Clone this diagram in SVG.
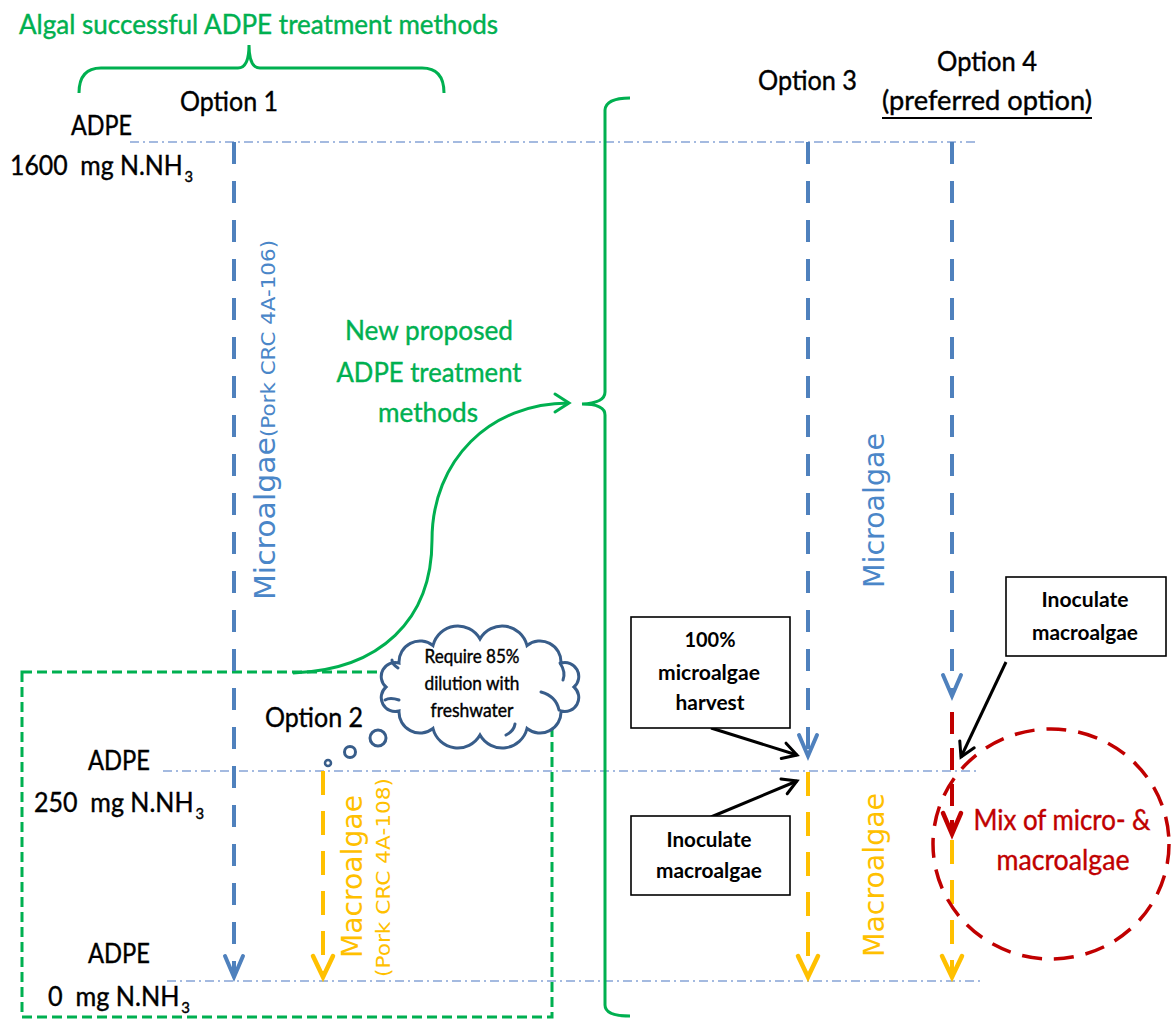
<svg xmlns="http://www.w3.org/2000/svg" width="1171" height="1019" viewBox="0 0 1171 1019">
<style>
.t{font-family:Lato,"Liberation Sans",Arial,sans-serif;stroke-width:0.4;paint-order:stroke}
.v{font-family:"DejaVu Sans",Verdana,sans-serif}
.g{fill:#00b050;stroke:#00b050}
.k{fill:#000;stroke:#000}
.rt{fill:#c00000;stroke:#c00000}
.dd{stroke:#86a4d6;stroke-width:1.6;stroke-dasharray:9 4 2 4;fill:none}
.db{stroke:#4f81bd;stroke-width:4;stroke-dasharray:22 17;fill:none}
.dy{stroke:#ffc000;stroke-width:4;stroke-dasharray:24 16;fill:none}
.dr{stroke:#c00000;stroke-width:4;stroke-dasharray:22 14;fill:none}
.ba{stroke:#000;stroke-width:3;fill:none}
.gl{stroke:#00b050;stroke-width:3;fill:none}
.box{fill:#fff;stroke:#000;stroke-width:1.6}
.bt{font-family:Lato,"Liberation Sans",Arial,sans-serif;font-weight:bold;font-size:21px;text-anchor:middle;fill:#000}
.cs{fill:none;stroke:#385d8a;stroke-width:3;stroke-linecap:round}
.mk{fill:none;stroke-linecap:round;stroke-linejoin:miter}
</style>
<defs>
<marker id="mB" markerUnits="userSpaceOnUse" viewBox="-26 -14 32 28" refX="0" refY="0" markerWidth="32" markerHeight="28" orient="auto" overflow="visible"><path class="mk" d="M-21,-9 L0,0 L-21,9" stroke="#4f81bd" stroke-width="4"/></marker>
<marker id="mY" markerUnits="userSpaceOnUse" viewBox="-26 -14 32 28" refX="0" refY="0" markerWidth="32" markerHeight="28" orient="auto" overflow="visible"><path class="mk" d="M-21,-10 L0,0 L-21,10" stroke="#ffc000" stroke-width="4.5"/></marker>
<marker id="mR" markerUnits="userSpaceOnUse" viewBox="-26 -14 32 28" refX="0" refY="0" markerWidth="32" markerHeight="28" orient="auto" overflow="visible"><path class="mk" d="M-21,-9 L0,0 L-21,9" stroke="#c00000" stroke-width="4.5"/></marker>
<marker id="mK" markerUnits="userSpaceOnUse" viewBox="-20 -12 26 24" refX="0" refY="0" markerWidth="26" markerHeight="24" orient="auto" overflow="visible"><path class="mk" d="M-14,-8 L0,0 L-14,8" stroke="#000" stroke-width="3"/></marker>
<marker id="mG" markerUnits="userSpaceOnUse" viewBox="-20 -12 26 24" refX="0" refY="0" markerWidth="26" markerHeight="24" orient="auto" overflow="visible"><path class="mk" d="M-14,-9 L0,0 L-14,9" stroke="#00b050" stroke-width="3"/></marker>
</defs>
<rect width="1171" height="1019" fill="#fff"/>

<g id="option2-frame">
<rect x="22" y="672" width="530" height="345" fill="none" stroke="#00b050" stroke-width="3" stroke-dasharray="10 5"/>
</g>

<g id="connectors">
<line class="dd" x1="130" y1="142" x2="978" y2="142"/>
<line class="dd" x1="163" y1="771" x2="979" y2="771"/>
<line class="dd" x1="167" y1="981" x2="983" y2="981"/>
<line class="db" x1="234" y1="142" x2="234" y2="977" marker-end="url(#mB)"/>
<line class="db" x1="808" y1="142" x2="808" y2="756" marker-end="url(#mB)"/>
<line class="db" x1="952" y1="142" x2="952" y2="696" marker-end="url(#mB)"/>
<line class="dy" x1="323" y1="771" x2="323" y2="977" marker-end="url(#mY)"/>
<line class="dy" x1="808" y1="772" x2="808" y2="977" marker-end="url(#mY)"/>
<line class="dy" x1="952" y1="840" x2="952" y2="977" marker-end="url(#mY)"/>
<line class="dr" x1="952" y1="712" x2="952" y2="834" marker-end="url(#mR)"/>
<line class="ba" x1="711" y1="728" x2="797" y2="755" marker-end="url(#mK)"/>
<line class="ba" x1="711" y1="817" x2="797" y2="781" marker-end="url(#mK)"/>
<line class="ba" x1="1006" y1="662" x2="961" y2="757" marker-end="url(#mK)"/>
<path class="gl" d="M293,673 C380,670 432,620 432,540 C432,460 490,403 569,403" marker-end="url(#mG)"/>
</g>

<g id="brace-top">
<path class="gl" d="M79,93 Q79,68 101,68 L238,68 Q249,68 249,45 Q249,68 260,68 L422,68 Q444,68 444,93"/>
</g>
<g id="brace-right">
<path class="gl" d="M630,98 Q606,98 605,110 L605,392 Q605,403 582,404 Q605,404 605,415 L605,1005 Q605,1016 630,1016"/>
</g>

<g id="title">
<text class="t g" x="19" y="34" font-size="27" textLength="479" lengthAdjust="spacingAndGlyphs">Algal successful ADPE treatment methods</text>
</g>

<g id="option-labels">
<text class="t k" x="180" y="111" font-size="27" textLength="98" lengthAdjust="spacingAndGlyphs">Option 1</text>
<text class="t k" x="265" y="727" font-size="27" textLength="98" lengthAdjust="spacingAndGlyphs">Option 2</text>
<text class="t k" x="758" y="90" font-size="27" textLength="99" lengthAdjust="spacingAndGlyphs">Option 3</text>
<text class="t k" x="937" y="71" font-size="27" textLength="100" lengthAdjust="spacingAndGlyphs">Option 4</text>
<text class="t k" x="882" y="110" font-size="27" textLength="210" lengthAdjust="spacingAndGlyphs">(preferred option)</text>
<line x1="882" y1="118" x2="1092" y2="118" stroke="#000" stroke-width="2"/>
</g>

<g id="level-1600">
<text class="t k" x="71" y="135" font-size="27" textLength="61" lengthAdjust="spacingAndGlyphs">ADPE</text>
<text class="t k" x="10" y="175" font-size="27" textLength="183" lengthAdjust="spacingAndGlyphs" xml:space="preserve">1600  mg N.NH<tspan font-size="16" dx="2" dy="7">3</tspan></text>
</g>
<g id="level-250">
<text class="t k" x="88" y="770" font-size="27" textLength="62" lengthAdjust="spacingAndGlyphs">ADPE</text>
<text class="t k" x="34" y="812" font-size="27" textLength="170" lengthAdjust="spacingAndGlyphs" xml:space="preserve">250  mg N.NH<tspan font-size="16" dx="2" dy="7">3</tspan></text>
</g>
<g id="level-0">
<text class="t k" x="88" y="963" font-size="27" textLength="62" lengthAdjust="spacingAndGlyphs">ADPE</text>
<text class="t k" x="48" y="1006" font-size="27" textLength="142" lengthAdjust="spacingAndGlyphs" xml:space="preserve">0  mg N.NH<tspan font-size="16" dx="2" dy="7">3</tspan></text>
</g>

<g id="microalgae-option1">
<text class="v" fill="#4a86c8" font-size="28" transform="translate(275,600) rotate(-90)" textLength="163" lengthAdjust="spacingAndGlyphs">Microalgae</text>
<text class="v" fill="#4a86c8" font-size="20" transform="translate(275,437) rotate(-90)" textLength="197" lengthAdjust="spacingAndGlyphs">(Pork CRC 4A-106)</text>
</g>
<g id="macroalgae-option2">
<text class="v" fill="#ffc000" font-size="28" transform="translate(362,958) rotate(-90)" textLength="163" lengthAdjust="spacingAndGlyphs">Macroalgae</text>
<text class="v" fill="#ffc000" font-size="19" transform="translate(390,977) rotate(-90)" textLength="199" lengthAdjust="spacingAndGlyphs">(Pork CRC 4A-108)</text>
</g>
<g id="microalgae-option34">
<text class="v" fill="#4a86c8" font-size="28" transform="translate(884,588) rotate(-90)" textLength="155" lengthAdjust="spacingAndGlyphs">Microalgae</text>
</g>
<g id="macroalgae-option34">
<text class="v" fill="#ffc000" font-size="28" transform="translate(884,957) rotate(-90)" textLength="164" lengthAdjust="spacingAndGlyphs">Macroalgae</text>
</g>

<g id="new-proposed">
<text class="t g" x="429" y="340" font-size="27" text-anchor="middle" textLength="168" lengthAdjust="spacingAndGlyphs">New proposed</text>
<text class="t g" x="429" y="382" font-size="27" text-anchor="middle" textLength="185" lengthAdjust="spacingAndGlyphs">ADPE treatment</text>
<text class="t g" x="428" y="422" font-size="27" text-anchor="middle" textLength="100" lengthAdjust="spacingAndGlyphs">methods</text>
</g>

<g id="cloud">
<path d="M574,687 A14,14 0 0 1 561,711 A21,21 0 0 1 527,728.5 A25.5,25.5 0 0 1 480,735 A25.5,25.5 0 0 1 433,728.5 A21,21 0 0 1 399,711 A14,14 0 0 1 386,687 A14,14 0 0 1 399,663 A21,21 0 0 1 433,645.5 A25.5,25.5 0 0 1 480,639 A25.5,25.5 0 0 1 527,645.5 A21,21 0 0 1 561,663 A14,14 0 0 1 574,687 Z" fill="#fff" stroke="#385d8a" stroke-width="3"/>
<path class="cs" d="M541,692 Q556,696 559,710"/>
<path class="cs" d="M506,735 Q514,731 515,724"/>
<path class="cs" d="M399,700 Q390,697 385,700"/>
<path class="cs" d="M398,668 Q392,664 392,660"/>
<path class="cs" d="M560,663 Q566,672 563,680"/>
<circle cx="378" cy="738" r="8" fill="#fff" stroke="#385d8a" stroke-width="3"/>
<circle cx="350" cy="752" r="5.5" fill="#fff" stroke="#385d8a" stroke-width="3"/>
<circle cx="328" cy="763" r="3" fill="#fff" stroke="#385d8a" stroke-width="2.5"/>
<text class="t k" x="472" y="663" font-size="18.5" text-anchor="middle" textLength="95" lengthAdjust="spacingAndGlyphs" stroke-width="0.2">Require 85%</text>
<text class="t k" x="472" y="690" font-size="18.5" text-anchor="middle" textLength="95" lengthAdjust="spacingAndGlyphs" stroke-width="0.2">dilution with</text>
<text class="t k" x="472" y="717" font-size="18.5" text-anchor="middle" textLength="83" lengthAdjust="spacingAndGlyphs" stroke-width="0.2">freshwater</text>
</g>

<g id="box-harvest">
<rect class="box" x="631" y="617" width="159" height="111"/>
<text class="bt" x="710" y="647" textLength="51" lengthAdjust="spacingAndGlyphs">100%</text>
<text class="bt" x="709" y="680" textLength="102" lengthAdjust="spacingAndGlyphs">microalgae</text>
<text class="bt" x="710" y="710" textLength="69" lengthAdjust="spacingAndGlyphs">harvest</text>
</g>
<g id="box-inoculate-3">
<rect class="box" x="631" y="816" width="159" height="79"/>
<text class="bt" x="709" y="847" textLength="85" lengthAdjust="spacingAndGlyphs">Inoculate</text>
<text class="bt" x="709" y="878" textLength="106" lengthAdjust="spacingAndGlyphs">macroalgae</text>
</g>
<g id="box-inoculate-4">
<rect class="box" x="1006" y="577" width="160" height="79"/>
<text class="bt" x="1085" y="607" textLength="87" lengthAdjust="spacingAndGlyphs">Inoculate</text>
<text class="bt" x="1085" y="640" textLength="106" lengthAdjust="spacingAndGlyphs">macroalgae</text>
</g>

<g id="mix-circle">
<ellipse cx="1051" cy="844" rx="118" ry="115" fill="none" stroke="#c00000" stroke-width="3.5" stroke-dasharray="20 12"/>
<text class="t rt" x="1062" y="830" font-size="28" text-anchor="middle" textLength="177" lengthAdjust="spacingAndGlyphs">Mix of micro- &amp;</text>
<text class="t rt" x="1063" y="870" font-size="28" text-anchor="middle" textLength="133" lengthAdjust="spacingAndGlyphs">macroalgae</text>
</g>
</svg>
